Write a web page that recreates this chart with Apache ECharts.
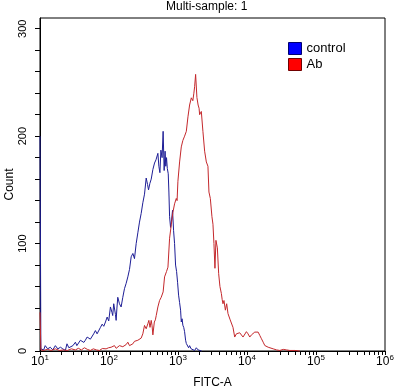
<!DOCTYPE html>
<html><head><meta charset="utf-8">
<script src="https://cdn.jsdelivr.net/npm/echarts@6/dist/echarts.min.js"></script>
<style>html,body{margin:0;padding:0;background:#fff}#c{width:401px;height:389px}</style>
</head><body><div id="c"></div>
<script>
// FITC-A channel values and counts
const controlFitc = [10,10.3,10.7,11.3,11.9,12.9,14.1,15.3,16.7,18.1,19.8,21.4,23.3,24.6,26.2,27.5,30,32.6,34.2,36.3,38.5,40.7,43.2,45.4,48.2,50.9,53.7,56.8,60,63.5,67.2,71.1,75.2,79.6,84,88.9,94,99.1,104.9,110.3,113.2,117.1,120,124,126.9,130.3,134,141.8,149.8,158.5,167.6,177.3,187.5,198.2,209.6,221.8,234,247.7,261.7,276.6,292.5,309.3,327,346,362,374,391,409,432.5,457,480,511,528,547,565,588,609,630,650,665,682,700,722,738,755,780,807,834,863,892,922,954,986,1020,1055,1090,1116,1146,1176,1210,1246,1289,1320,1378,1425,1473,1549,1640,1741,1843,1957,2058,2200];
const controlCount = [200,2,2,1,5,2,3.5,1,5,2,3.5,2,0.5,6.7,3,3.5,5,8.2,5,6,10,11.4,8,10,13,14.5,11,12.7,16,19,16,17.5,22,25,23,27,31.6,28,41,36,33,44,42.5,34,28.5,40,50,44,41,50,58,63,69,76,87.7,90.8,86,100,110,120,128,138,146,161,155,150,156,160,169,175,178,184,172,166,187,180,204.5,168,186,172,180,170,165,148,125,115,122,131,112,100,80,74,64,52,45,38,27,30,24,22,18,10,7,6,3,5,2,2,0.5,3,1,0.5,0];
const abFitc = [10,10.3,11.2,12.8,14.6,16.7,19.1,21.8,24.9,28.5,32.6,36,39.8,44,48.6,53.6,59.3,65.6,72.6,80.2,90.8,98.4,107.3,114,120,127,134,141.8,149.8,158.5,167.6,177.3,187.5,198.2,209.6,221.8,234,247.7,261.7,276.6,292.5,309.3,327,346,365.7,378,393,409,420,432.5,454,470,483.5,511,540.5,571,609,638.7,682,715,755,801,843,892,944,970,997,1055,1116,1176,1246,1320,1394,1473,1560,1640,1698,1741,1800,1843,1880,1957,2020,2058,2178,2297,2432,2575,2717,2808,2942,3105,3211,3319,3432,3548,3719,3884,4054,4252,4366,4485,4638,4860,5077,5302,5520,5706,5939,6266,6633,7022,7406,7840,8299,8757,9265,9808,10345,10966,11600,12250,12964,13700,14500,15326,16200,17160,18119,19200,20290,21420,23990,26870,29930,33530,37540,41820,49500,58400];
const abCount = [36,1,0.5,1.5,0.5,2,0.5,1,0.5,2,1,2.5,1,3,1.5,0.5,2,1,0.5,2.3,2,3,3.5,2,5,2.5,3.5,5,6.7,4,3.5,6,8.2,5,6,6.7,9,9.8,10,9,12,16,23.8,20.7,25.4,28.5,22,28.5,24,15,27,29,33,41,47,50,55,69,74,78,105,118,129,137,142,140,158,176,190,196,200,204.5,218,229,235.7,233,240,246,257.5,259,236,229,226,220,223,204.5,186,176,172,148,142,125,118,100,77,103,96,72,60,53.5,48,44,47,38,44,34.8,36,29,28.5,22,13,16,14.5,17,17.6,13,14.5,18,16,13,15,14.5,17.6,16,17.6,14.5,11.4,8.2,5.1,4,3.5,2.5,2,1,0.5,1.5,1,0.5,0.5,0];
const seriesNames = ['control', 'Ab'];
const xDecades = [10, 100, 1000, 10000, 100000, 1000000];
const xDecadeExponents = ['1', '2', '3', '4', '5', '6'];
const xMinorMultipliers = [2, 3, 4, 5, 6, 7, 8, 9];
const yTickValues = [0,20,40,60,80,100,120,140,160,180,200,220,240,260,280,300];
const yLabelValues = [0, 100, 200, 300];

const zip = (xs, ys) => xs.map((x, i) => [x, ys[i]]);
const xTickValues = [];
xDecades.forEach((d, i) => {
  xTickValues.push(d);
  if (i < xDecades.length - 1) xMinorMultipliers.forEach(m => xTickValues.push(d * m));
});

const FONT = 'Liberation Sans';
const chart = echarts.init(document.getElementById('c'), null, {renderer: 'canvas'});
chart.setOption({
  animation: false,
  backgroundColor: '#ffffff',
  textStyle: {fontFamily: FONT, color: '#000'},
  title: {
    text: 'Multi-sample: 1', left: 166, top: 1, padding: 0,
    textStyle: {fontSize: 12, fontWeight: 'normal', color: '#000', fontFamily: FONT}
  },
  legend: {
    orient: 'vertical', left: 288, top: 42, padding: 0,
    itemWidth: 13, itemHeight: 12, itemGap: 3, icon: 'rect',
    textStyle: {fontSize: 13, color: '#000', fontFamily: FONT},
    data: [
      {name: seriesNames[0], itemStyle: {color: '#0000ff', borderColor: '#000070', borderWidth: 1}},
      {name: seriesNames[1], itemStyle: {color: '#ff0000', borderColor: '#700000', borderWidth: 1}}
    ]
  },
  grid: {left: 40, right: 16, top: 18, bottom: 38, show: true, borderColor: '#000', borderWidth: 1,
         backgroundColor: 'transparent', containLabel: false, outerBoundsMode: 'none'},
  xAxis: {
    type: 'log', logBase: 10, min: 10, max: 1000000,
    name: 'FITC-A', nameLocation: 'middle', nameGap: 26, nameMoveOverlap: false,
    nameTextStyle: {fontSize: 12, color: '#000', fontFamily: FONT},
    axisLine: {lineStyle: {color: '#000', width: 1}},
    axisTick: {customValues: xTickValues, length: 4, lineStyle: {color: '#000'}},
    axisLabel: {
      customValues: xDecades, margin: 3, color: '#000',
      formatter: v => {
        const i = xDecades.findIndex(d => Math.abs(d - v) / d < 1e-6);
        return '{b|10}{s|' + (i >= 0 ? xDecadeExponents[i] : '') + '}';
      },
      rich: {
        b: {fontSize: 12, fontFamily: FONT, color: '#000', lineHeight: 14, verticalAlign: 'bottom'},
        s: {fontSize: 8, fontFamily: FONT, color: '#000', lineHeight: 14, verticalAlign: 'top'}
      }
    },
    splitLine: {show: false}
  },
  yAxis: {
    type: 'value', min: 0, max: 310,
    name: 'Count', nameLocation: 'middle', nameRotate: 90, nameGap: 24, nameMoveOverlap: false,
    nameTextStyle: {fontSize: 12, color: '#000', fontFamily: FONT},
    axisLine: {show: true, lineStyle: {color: '#000', width: 1}},
    axisTick: {show: true, customValues: yTickValues, length: 5, lineStyle: {color: '#000'}},
    axisLabel: {customValues: yLabelValues, rotate: 90, margin: 12, fontSize: 11, color: '#000', fontFamily: FONT},
    splitLine: {show: false}
  },
  series: [
    {name: seriesNames[0], type: 'line', data: zip(controlFitc, controlCount), showSymbol: false, symbol: 'none', clip: false,
     lineStyle: {color: '#1e1e96', width: 1}, itemStyle: {color: '#1e1e96'}},
    {name: seriesNames[1], type: 'line', data: zip(abFitc, abCount), showSymbol: false, symbol: 'none', clip: false,
     lineStyle: {color: '#c4282c', width: 1}, itemStyle: {color: '#c4282c'}}
  ]
});
</script></body></html>
